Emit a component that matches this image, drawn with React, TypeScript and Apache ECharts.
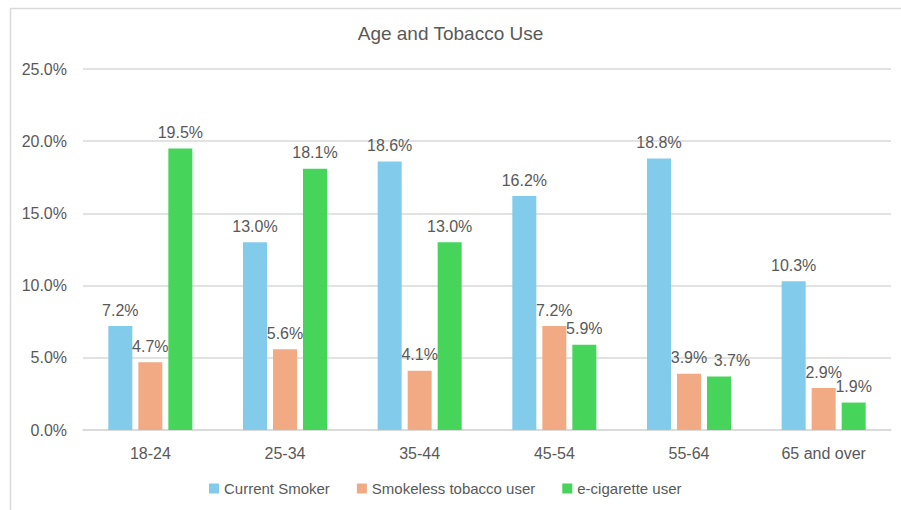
import React, { useEffect, useRef } from "react";
import * as echarts from "echarts";

const categories = ["18-24", "25-34", "35-44", "45-54", "55-64", "65 and over"];
const currentSmoker = [7.2, 13.0, 18.6, 16.2, 18.8, 10.3];
const smokeless = [4.7, 5.6, 4.1, 7.2, 3.9, 2.9];
const ecig = [19.5, 18.1, 13.0, 5.9, 3.7, 1.9];
const seriesNames = ["Current Smoker", "Smokeless tobacco user", "e-cigarette user"];
const colors = ["#83CBEB", "#F2AA84", "#47D45A"];

export default function App() {
  const ref = useRef<HTMLDivElement>(null);
  useEffect(() => {
    if (!ref.current) return;
    const chart = echarts.init(ref.current, null, { renderer: "svg" });
    const font = "'Liberation Sans', Arial, sans-serif";
    const mk = (name: string, data: number[], color: string, shifts: Record<number, number> = {}) => ({
      name,
      type: "bar",
      data: data.map((v, i) =>
        shifts[i] !== undefined ? { value: v, label: { offset: [shifts[i], 0] } } : v
      ),
      barWidth: 24,
      barGap: "25%",
      itemStyle: { color },
      label: {
        show: true,
        position: "top",
        distance: 8,
        formatter: (p: any) => Number(p.value).toFixed(1) + "%",
        color: "#595959",
        fontSize: 16,
        fontFamily: font,
      },
    });
    chart.setOption({
      animation: false,
      backgroundColor: "#fff",
      textStyle: { fontFamily: font },
      graphic: [
        {
          type: "rect",
          shape: { x: 10.5, y: 8.5, width: 1000, height: 1000 },
          style: { fill: "none", stroke: "#D9D9D9", lineWidth: 1.5 },
          silent: true,
        },
      ],
      title: {
        text: "Age and Tobacco Use",
        left: "center",
        top: 19,
        textStyle: { color: "#595959", fontSize: 19, fontWeight: "normal", fontFamily: font },
      },
      legend: {
        bottom: 9,
        left: 204,
        itemWidth: 10,
        itemHeight: 10,
        itemGap: 27,
        icon: "rect",
        textStyle: { color: "#595959", fontSize: 15, fontFamily: font },
        data: seriesNames,
      },
      grid: { left: 83, right: 10, top: 69, bottom: 80, containLabel: false },
      xAxis: {
        type: "category",
        data: categories,
        axisLine: { lineStyle: { color: "#D9D9D9", width: 1.5 } },
        axisTick: { show: false },
        axisLabel: { color: "#595959", fontSize: 16, margin: 15, fontFamily: font },
      },
      yAxis: {
        type: "value",
        min: 0,
        max: 25,
        interval: 5,
        axisLine: { show: false },
        axisTick: { show: false },
        splitLine: { lineStyle: { color: "#D9D9D9", width: 1.5 } },
        axisLabel: {
          color: "#595959",
          fontSize: 16,
          margin: 16,
          fontFamily: font,
          formatter: (v: number) => v.toFixed(1) + "%",
        },
      },
      series: [
        mk(seriesNames[0], currentSmoker, colors[0]),
        mk(seriesNames[1], smokeless, colors[1]),
        mk(seriesNames[2], ecig, colors[2], { 4: 13 }),
      ],
    });
    return () => chart.dispose();
  }, []);
  return (
    <div
      ref={ref}
      style={{ position: "fixed", left: 0, top: 0, width: 901, height: 510 }}
    />
  );
}
